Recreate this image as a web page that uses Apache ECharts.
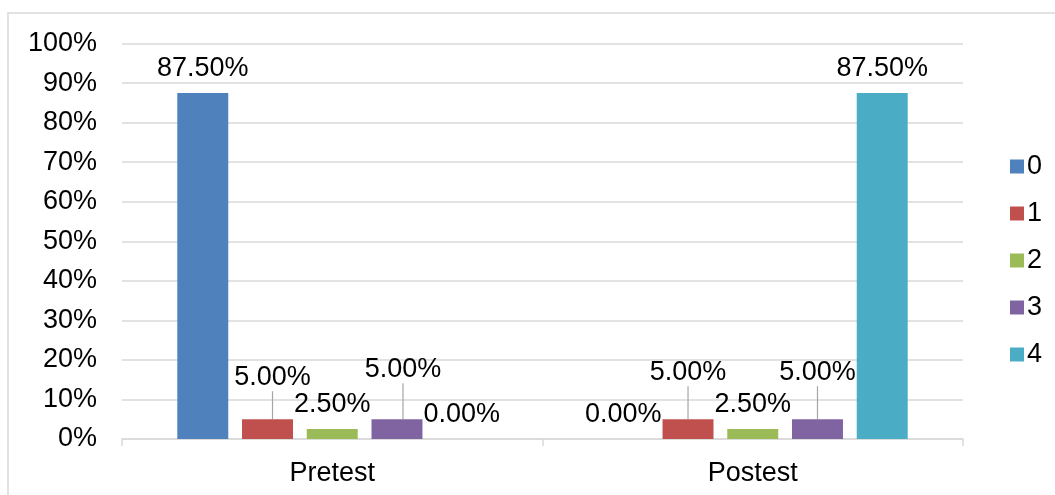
<!DOCTYPE html>
<html>
<head>
<meta charset="utf-8">
<style>
  html, body { margin: 0; padding: 0; background: #fff; }
  #chart { width: 1055px; height: 495px; }
</style>
<script src="https://cdn.jsdelivr.net/npm/echarts@6/dist/echarts.min.js"></script>
</head>
<body>
<div id="chart"></div>
<script>
// Test phases on the x axis
const categories = ['Pretest', 'Postest'];
// Score groups shown in the legend
const seriesNames = ['0', '1', '2', '3', '4'];
// Share of students (%) per score group, one value per phase
const score0 = [87.5, 0];
const score1 = [5, 5];
const score2 = [2.5, 2.5];
const score3 = [5, 5];
const score4 = [0, 87.5];
// Y axis ticks
const yTicks = [0, 10, 20, 30, 40, 50, 60, 70, 80, 90, 100];

const seriesValues = [score0, score1, score2, score3, score4];
const colors = ['#4f81bd', '#c0504d', '#9bbb59', '#8064a2', '#4bacc6'];

// Labels lifted clear of their neighbours, joined to the bar by a guide line
const liftedLabels = {
  '1-0': { dx: 5, dy: -17 },
  '3-0': { dx: 6, dy: -25 },
  '1-1': { dx: 0, dy: -22 },
  '3-1': { dx: 0, dy: -22 }
};

const FONT = '"Liberation Sans", Arial, Helvetica, sans-serif';
const FS = 27;

const chart = echarts.init(document.getElementById('chart'), null, { renderer: 'canvas' });

const series = seriesValues.map((vals, s) => ({
  name: seriesNames[s],
  type: 'bar',
  barGap: '27%',
  barCategoryGap: '26.3%',
  itemStyle: { color: colors[s] },
  label: {
    show: true,
    position: 'top',
    distance: 11,
    color: '#000',
    fontSize: FS,
    fontFamily: FONT,
    formatter: p => p.value.toFixed(2) + '%'
  },
  labelLine: {
    show: false,
    lineStyle: { color: '#a6a6a6', width: 1.2 }
  },
  labelLayout: p => {
    const off = liftedLabels[p.seriesIndex + '-' + p.dataIndex];
    return off ? { dx: off.dx, dy: off.dy } : {};
  },
  data: vals.map((v, i) => ({
    value: v,
    labelLine: { show: !!liftedLabels[s + '-' + i] }
  }))
}));

chart.setOption({
  animation: false,
  backgroundColor: '#fff',
  color: colors,
  graphic: [{
    type: 'rect',
    shape: { x: 8, y: 13, width: 1200, height: 600 },
    style: { fill: 'none', stroke: '#d9d9d9', lineWidth: 1.5 },
    silent: true,
    z: -10
  }],
  grid: { left: 122, right: 92, top: 43.5, bottom: 56, containLabel: false },
  legend: {
    orient: 'vertical',
    left: 1005,
    top: 148,
    itemWidth: 14,
    itemHeight: 14,
    itemGap: 20,
    icon: 'rect',
    data: seriesNames,
    textStyle: { fontSize: FS, fontFamily: FONT, color: '#000', padding: [0, 0, 0, -2] }
  },
  xAxis: {
    type: 'category',
    data: categories,
    boundaryGap: true,
    axisLine: { lineStyle: { color: '#d9d9d9', width: 1.5 } },
    axisTick: { show: true, length: 7, interval: 0, lineStyle: { color: '#d9d9d9', width: 1.5 } },
    axisLabel: { fontSize: FS, fontFamily: FONT, color: '#000', margin: 21 }
  },
  yAxis: {
    type: 'value',
    min: yTicks[0],
    max: yTicks[yTicks.length - 1],
    interval: yTicks[1] - yTicks[0],
    axisLine: { show: false },
    axisTick: { show: false },
    splitLine: { lineStyle: { color: '#d9d9d9', width: 1.5 } },
    axisLabel: {
      fontSize: FS,
      fontFamily: FONT,
      color: '#000',
      margin: 25,
      formatter: '{value}%'
    }
  },
  series: series
});
</script>
</body>
</html>
